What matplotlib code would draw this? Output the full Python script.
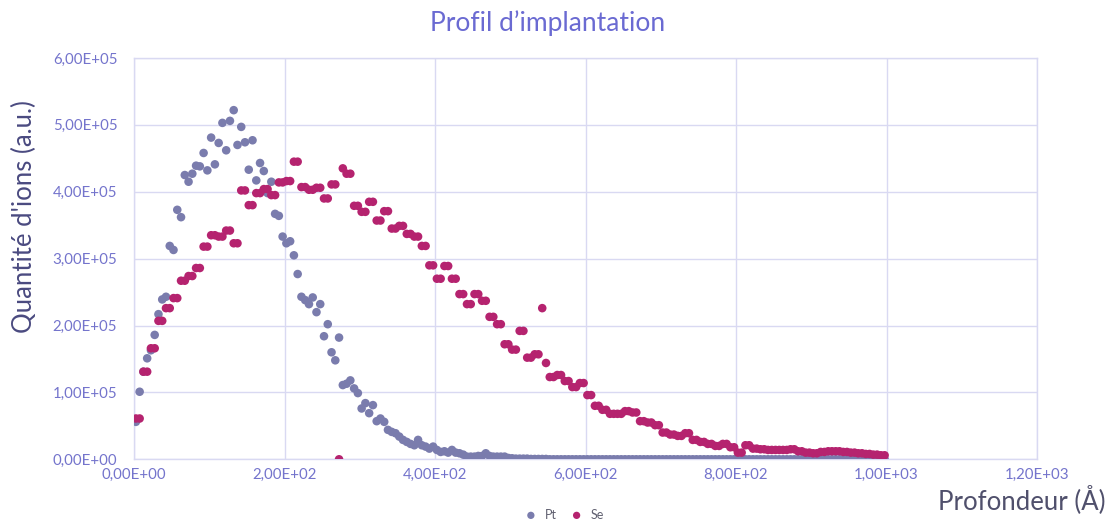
import numpy as np
import matplotlib
matplotlib.use("Agg")
import matplotlib.pyplot as plt
from matplotlib.ticker import FuncFormatter, MultipleLocator

# Depth sampling positions (Å)
depth = np.arange(2.5, 1000, 5.0)

# Pt quantity (x 1e5 ions)
pt_vals = [
    0.56, 1.01, 1.31, 1.51, 1.63, 1.86, 2.17, 2.39, 2.43, 3.19,
    3.13, 3.73, 3.62, 4.25, 4.15, 4.27, 4.39, 4.38, 4.58, 4.32,
    4.81, 4.41, 4.73, 5.03, 4.62, 5.06, 5.22, 4.70, 4.97, 4.74,
    4.33, 4.77, 4.17, 4.43, 4.31, 3.98, 4.15, 3.67, 3.64, 3.33,
    3.23, 3.26, 3.05, 2.77, 2.43, 2.38, 2.32, 2.42, 2.20, 2.32,
    1.84, 2.02, 1.60, 1.48, 1.82, 1.11, 1.13, 1.18, 1.06, 0.99,
    0.76, 0.84, 0.69, 0.81, 0.57, 0.61, 0.56, 0.44, 0.41, 0.39,
    0.34, 0.29, 0.26, 0.23, 0.21, 0.29, 0.21, 0.19, 0.16, 0.19,
    0.14, 0.11, 0.12, 0.10, 0.14, 0.10, 0.09, 0.07, 0.04, 0.04,
    0.04, 0.05, 0.05, 0.09, 0.05, 0.04, 0.04, 0.04, 0.04, 0.02,
    0.015, 0.01, 0.01, 0.01, 0.01, 0.005, 0.005, 0.005, 0.005, 0.005,
    0, 0, 0, 0, 0, 0, 0, 0, 0, 0,
    0, 0, 0, 0, 0, 0, 0, 0, 0, 0,
    0, 0, 0, 0, 0, 0, 0, 0, 0, 0,
    0, 0, 0, 0, 0, 0, 0, 0, 0, 0,
    0, 0, 0, 0, 0, 0, 0, 0, 0, 0,
    0, 0, 0, 0, 0, 0, 0, 0, 0, 0,
    0, 0, 0, 0, 0, 0, 0, 0, 0, 0,
    0, 0, 0, 0, 0, 0, 0, 0, 0, 0,
    0, 0, 0, 0, 0, 0, 0, 0, 0, 0,
]

# Se quantity (x 1e5 ions)
se_vals = [
    0.61, 0.61, 1.31, 1.31, 1.66, 1.66, 2.07, 2.07, 2.26, 2.26,
    2.41, 2.41, 2.67, 2.67, 2.74, 2.74, 2.86, 2.86, 3.18, 3.18,
    3.35, 3.35, 3.33, 3.33, 3.42, 3.42, 3.23, 3.23, 4.02, 4.02,
    3.80, 3.80, 3.98, 3.98, 4.04, 4.04, 3.95, 3.95, 4.14, 4.14,
    4.16, 4.16, 4.45, 4.45, 4.07, 4.07, 4.03, 4.03, 4.06, 4.06,
    3.90, 3.90, 4.11, 4.11, 0.00, 4.35, 4.27, 4.27, 3.79, 3.79,
    3.70, 3.70, 3.85, 3.85, 3.57, 3.57, 3.71, 3.71, 3.45, 3.45,
    3.49, 3.49, 3.37, 3.37, 3.33, 3.33, 3.19, 3.19, 2.90, 2.90,
    2.70, 2.70, 2.89, 2.89, 2.70, 2.70, 2.47, 2.47, 2.32, 2.32,
    2.47, 2.47, 2.37, 2.37, 2.13, 2.13, 2.02, 2.02, 1.72, 1.72,
    1.64, 1.64, 1.92, 1.92, 1.52, 1.52, 1.57, 1.57, 2.26, 1.44,
    1.23, 1.23, 1.26, 1.26, 1.17, 1.17, 1.08, 1.08, 1.14, 1.14,
    0.96, 0.96, 0.80, 0.80, 0.74, 0.74, 0.68, 0.68, 0.68, 0.68,
    0.72, 0.72, 0.70, 0.70, 0.57, 0.57, 0.55, 0.55, 0.51, 0.51,
    0.40, 0.40, 0.37, 0.37, 0.35, 0.35, 0.39, 0.39, 0.29, 0.29,
    0.26, 0.26, 0.23, 0.23, 0.20, 0.20, 0.23, 0.23, 0.18, 0.18,
    0.10, 0.10, 0.21, 0.21, 0.16, 0.16, 0.15, 0.15, 0.14, 0.14,
    0.14, 0.14, 0.14, 0.14, 0.15, 0.15, 0.12, 0.12, 0.10, 0.10,
    0.09, 0.09, 0.11, 0.11, 0.12, 0.12, 0.12, 0.12, 0.11, 0.11,
    0.10, 0.10, 0.09, 0.09, 0.08, 0.08, 0.07, 0.07, 0.06, 0.06,
]

series_names = ["Pt", "Se"]
series_colors = ["#7a7cad", "#b5236f"]
title = "Profil d\u2019implantation"
ylabel = "Quantit\u00e9 d'ions (a.u.)"
xlabel = "Profondeur (\u00c5)"

scale = 1e5
pt = np.array(pt_vals) * scale
se = np.array(se_vals) * scale

FONT = "Lato"
fig = plt.figure(figsize=(11.11, 5.23), dpi=100)
ax = fig.add_axes([134 / 1111, (523 - 459.3) / 523, 903 / 1111, (459.3 - 58) / 523])

for vals, name, col in zip([pt, se], series_names, series_colors):
    ax.scatter(depth, vals, s=38, color=col, edgecolors="none", label=name, zorder=3)

ax.set_xlim(0, 1200)
ax.set_ylim(0, 6e5)
ax.xaxis.set_major_locator(MultipleLocator(200))
ax.yaxis.set_major_locator(MultipleLocator(1e5))

def fmt(v, pos):
    return f"{v:.2E}".replace(".", ",")

ax.xaxis.set_major_formatter(FuncFormatter(fmt))
ax.yaxis.set_major_formatter(FuncFormatter(fmt))

grid_col = "#d9d9f2"
ax.grid(True, color=grid_col, linewidth=1.0, zorder=0)
ax.set_axisbelow(True)
for s in ax.spines.values():
    s.set_color(grid_col)
    s.set_linewidth(1.0)
ax.tick_params(length=0, colors="#7474cc", labelsize=10.8)
for lab in ax.get_xticklabels() + ax.get_yticklabels():
    lab.set_fontfamily(FONT)
ax.tick_params(axis="x", pad=6)
ax.tick_params(axis="y", pad=12)

fig.text(0.493, 0.955, title, ha="center", va="center", fontsize=19,
         color="#6a6ad2", family=FONT)
fig.text(0.022, 0.585, ylabel, ha="center", va="center", rotation=90,
         fontsize=18.5, color="#4a4a80", family=FONT)
fig.text(0.995, 0.045, xlabel, ha="right", va="center", fontsize=18.5,
         color="#50506c", family=FONT)

leg = fig.legend(loc="center", bbox_to_anchor=(0.505, 0.016), ncol=2, frameon=False,
                 fontsize=9, handletextpad=0.1, columnspacing=0.6,
                 markerscale=0.85, borderaxespad=0)
for t in leg.get_texts():
    t.set_color("#606070")
    t.set_fontfamily(FONT)

fig.savefig("out.png", dpi=100)
